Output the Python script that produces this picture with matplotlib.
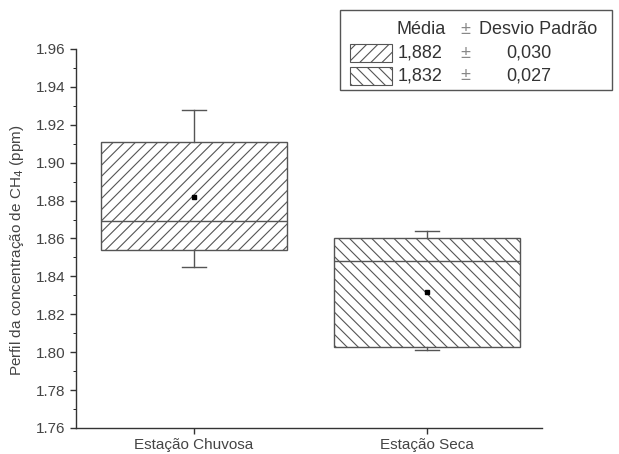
import matplotlib
matplotlib.use('Agg')
import matplotlib.pyplot as plt
from matplotlib.patches import Rectangle
from matplotlib.ticker import MultipleLocator

plt.rcParams.update({
    'font.family': ['Liberation Sans', 'DejaVu Sans'],
    'font.size': 11,
    'hatch.color': '#888888',
    'hatch.linewidth': 0.8,
    'axes.linewidth': 1.0,
    'xtick.direction': 'out', 'ytick.direction': 'out',
})

# data (ppm)
categories = ['Estação Chuvosa', 'Estação Seca']
q1 = [1.854, 1.803]
median = [1.869, 1.848]
q3 = [1.911, 1.860]
whislo = [1.845, 1.801]
whishi = [1.928, 1.864]
mean = [1.882, 1.832]
sd = [0.030, 0.027]
hatches = ['///', '\\\\\\']

fig = plt.figure(figsize=(6.19, 4.54), dpi=100)
ax = fig.add_axes([0.1228, 0.0573, 0.7528, 0.8348])

stats = []
for i in range(len(categories)):
    stats.append({'label': categories[i], 'q1': q1[i], 'med': median[i], 'q3': q3[i],
                  'whislo': whislo[i], 'whishi': whishi[i], 'mean': mean[i], 'fliers': []})

bp = ax.bxp(stats, positions=[1, 2], widths=0.8, patch_artist=True, showmeans=True,
            showfliers=False, capwidths=0.1,
            boxprops=dict(facecolor='white', edgecolor='#555555', lw=1.0),
            medianprops=dict(color='#555555', lw=1.0),
            whiskerprops=dict(color='#555555', lw=1.0),
            capprops=dict(color='#555555', lw=1.0),
            meanprops=dict(marker='s', markersize=2.5, markerfacecolor='black',
                           markeredgecolor='black'))
for patch, h in zip(bp['boxes'], hatches):
    patch.set_hatch(h)

ax.set_xlim(0.494, 2.494)
ax.set_ylim(1.76, 1.96)
ax.yaxis.set_major_locator(MultipleLocator(0.02))
ax.yaxis.set_minor_locator(MultipleLocator(0.01))
ax.set_yticklabels([f'{v:.2f}' for v in ax.get_yticks()])
ax.set_xticks([1, 2])
ax.set_xticklabels(categories)
ax.tick_params(axis='both', colors='#333333', labelcolor='#444444', length=4, width=1.0)
ax.tick_params(axis='y', which='minor', length=2.5)
ax.spines['top'].set_visible(False)
ax.spines['right'].set_visible(False)
for s in ['left', 'bottom']:
    ax.spines[s].set_color('#333333')
ax.set_ylabel('Perfil da concentração de CH$_4$ (ppm)', color='#444444')
ax.yaxis.set_label_coords(-0.108, 0.47)

# legend box drawn in figure coordinates
W, H = 619, 454
fig.patches.append(Rectangle((340 / W, 1 - 90 / H), 272 / W, 80 / H, transform=fig.transFigure,
                             facecolor='white', edgecolor='#555555', lw=1.0))
fs = 13
fig.text(397 / W, 1 - 29 / H, 'Média', fontsize=fs, color='#333333', va='center')
fig.text(465 / W, 1 - 29 / H, '±', fontsize=fs, color='#888888', va='center', ha='center')
fig.text(479 / W, 1 - 29 / H, 'Desvio Padrão', fontsize=fs, color='#333333', va='center')
rows_y = [53, 76]
for i in range(len(categories)):
    y = 1 - rows_y[i] / H
    fig.patches.append(Rectangle((350 / W, y - 9 / H), 42 / W, 18 / H, transform=fig.transFigure,
                                 facecolor='white', edgecolor='#555555', lw=0.8, hatch=hatches[i]))
    fig.text(398 / W, y, f'{mean[i]:.3f}'.replace('.', ','), fontsize=fs, color='#333333', va='center')
    fig.text(465 / W, y, '±', fontsize=fs, color='#888888', va='center', ha='center')
    fig.text(506 / W, y, f'{sd[i]:.3f}'.replace('.', ','), fontsize=fs, color='#333333', va='center')

fig.savefig('out.png', dpi=100)
